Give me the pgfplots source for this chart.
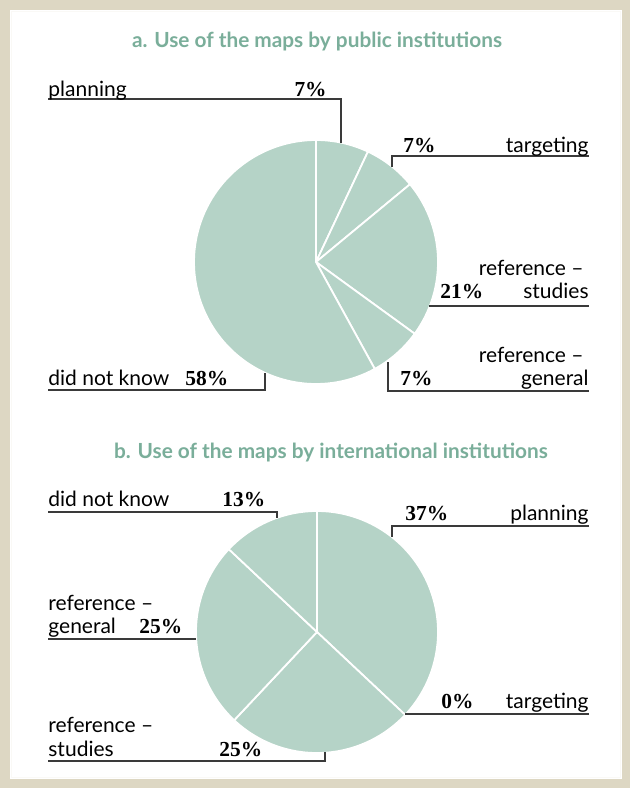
\documentclass[border=0pt]{standalone}
\usepackage{pgfplots}
\pgfplotsset{compat=1.18}
\usepackage{fontspec}
\setmainfont{Lato}
\newfontfamily\pctfont{Liberation Serif}
\definecolor{piecol}{HTML}{B5D3C7}
\definecolor{titlecol}{HTML}{7AAE9A}
\definecolor{framecol}{HTML}{DDD7C3}
\definecolor{linecol}{HTML}{3A3A3A}
% sector: cx, cy, radius, start angle (deg, counter-clockwise from east), percentage (clockwise)
\newcommand\piesector[5]{%
  \pgfmathsetmacro\aEnd{#4}%
  \pgfmathsetmacro\aStart{#4-3.6*#5}%
  \addplot[fill=piecol, draw=white, line width=0.9pt, domain=\aStart:\aEnd, samples=90, variable=\t]
    ({#1+#3*cos(t)},{#2-#3*sin(t)}) -- (axis cs:#1,#2) -- cycle;
}
\newcommand\lab[1]{\fontsize{10.5}{11.5}\selectfont #1}
\newcommand\pct[1]{\pctfont\bfseries\fontsize{10.7}{11.5}\selectfont #1}
\begin{document}
\begin{tikzpicture}
\begin{axis}[
  width=315pt, height=394pt, scale only axis,
  xmin=0, xmax=630, ymin=0, ymax=788, y dir=reverse,
  hide axis, clip=false]
% frame
\fill[framecol] (axis cs:0,0) rectangle (axis cs:630,788);
\fill[white] (axis cs:10,10) rectangle (axis cs:622,779);
\draw[white!85!framecol, line width=0.5pt] (axis cs:11.5,11.5) rectangle (axis cs:620.5,777.5);

% ---------- Pie a: public institutions ----------
% planning 7, targeting 7, reference-studies 21, reference-general 7, did not know 58
\piesector{316}{262}{122}{90}{7}
\piesector{316}{262}{122}{64.8}{7}
\piesector{316}{262}{122}{39.6}{21}
\piesector{316}{262}{122}{-36}{7}
\piesector{316}{262}{122}{-61.2}{58}

% ---------- Pie b: international institutions ----------
% planning 37, targeting 0, reference-studies 25, reference-general 25, did not know 13
\piesector{317}{632}{121}{90}{37}
\piesector{317}{632}{121}{-43.2}{25}
\piesector{317}{632}{121}{-133.2}{25}
\piesector{317}{632}{121}{-223.2}{13}

% titles
\node[anchor=base, text=titlecol, font=\bfseries\fontsize{10.4}{12}\selectfont] at (axis cs:317,47) {a. Use of the maps by public institutions};
\node[anchor=base, text=titlecol, font=\bfseries\fontsize{10.4}{12}\selectfont] at (axis cs:331,458) {b. Use of the maps by international institutions};

% leader lines a
\draw[linecol, line width=0.6pt] (axis cs:48,99) -- (axis cs:341,99) -- (axis cs:341,143);
\draw[linecol, line width=0.6pt] (axis cs:392,167) -- (axis cs:392,156) -- (axis cs:589,156);
\draw[linecol, line width=0.6pt] (axis cs:429,306) -- (axis cs:589,306);
\draw[linecol, line width=0.6pt] (axis cs:388,362) -- (axis cs:388,391) -- (axis cs:589,391);
\draw[linecol, line width=0.6pt] (axis cs:48,390) -- (axis cs:265,390) -- (axis cs:265,373);

% labels a
\node[anchor=base west, inner sep=0pt] at (axis cs:48,96) {\lab{planning}};
\node[anchor=base east, inner sep=0pt] at (axis cs:327,96) {\pct{7\%}};
\node[anchor=base west, inner sep=0pt] at (axis cs:403,152) {\pct{7\%}};
\node[anchor=base east, inner sep=0pt] at (axis cs:589,152) {\lab{targeting}};
\node[anchor=base east, inner sep=0pt] at (axis cs:584,275) {\lab{reference –}};
\node[anchor=base east, inner sep=0pt] at (axis cs:589,298) {\lab{studies}};
\node[anchor=base west, inner sep=0pt] at (axis cs:440,298) {\pct{21\%}};
\node[anchor=base east, inner sep=0pt] at (axis cs:584,362) {\lab{reference –}};
\node[anchor=base east, inner sep=0pt] at (axis cs:589,385) {\lab{general}};
\node[anchor=base west, inner sep=0pt] at (axis cs:400,385) {\pct{7\%}};
\node[anchor=base west, inner sep=0pt] at (axis cs:48,385) {\lab{did not know}};
\node[anchor=base west, inner sep=0pt] at (axis cs:185,385) {\pct{58\%}};

% leader lines b
\draw[linecol, line width=0.6pt] (axis cs:48,512) -- (axis cs:277,512) -- (axis cs:277,518);
\draw[linecol, line width=0.6pt] (axis cs:392,537) -- (axis cs:392,526) -- (axis cs:589,526);
\draw[linecol, line width=0.6pt] (axis cs:48,639) -- (axis cs:196,639);
\draw[linecol, line width=0.6pt] (axis cs:48,761) -- (axis cs:325,761) -- (axis cs:325,752);
\draw[linecol, line width=0.6pt] (axis cs:405,714) -- (axis cs:589,714);

% labels b
\node[anchor=base west, inner sep=0pt] at (axis cs:48,506) {\lab{did not know}};
\node[anchor=base west, inner sep=0pt] at (axis cs:222,506) {\pct{13\%}};
\node[anchor=base west, inner sep=0pt] at (axis cs:405,520) {\pct{37\%}};
\node[anchor=base east, inner sep=0pt] at (axis cs:589,520) {\lab{planning}};
\node[anchor=base west, inner sep=0pt] at (axis cs:48,610) {\lab{reference –}};
\node[anchor=base west, inner sep=0pt] at (axis cs:48,633) {\lab{general}};
\node[anchor=base west, inner sep=0pt] at (axis cs:139,633) {\pct{25\%}};
\node[anchor=base west, inner sep=0pt] at (axis cs:48,732) {\lab{reference –}};
\node[anchor=base west, inner sep=0pt] at (axis cs:48,756) {\lab{studies}};
\node[anchor=base west, inner sep=0pt] at (axis cs:219,756) {\pct{25\%}};
\node[anchor=base west, inner sep=0pt] at (axis cs:441,708) {\pct{0\%}};
\node[anchor=base east, inner sep=0pt] at (axis cs:589,708) {\lab{targeting}};
\end{axis}
\end{tikzpicture}
\end{document}
